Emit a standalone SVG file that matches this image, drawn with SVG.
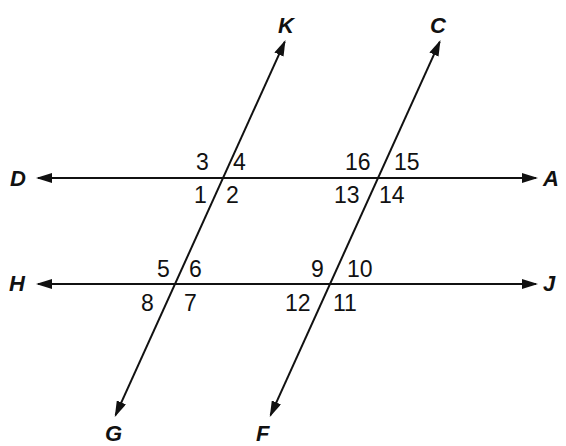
<svg xmlns="http://www.w3.org/2000/svg" width="566" height="446" viewBox="0 0 566 446">
<defs>
<marker id="arr" viewBox="0 0 16 10" refX="14" refY="5" markerWidth="16" markerHeight="10" markerUnits="userSpaceOnUse" orient="auto-start-reverse">
<path d="M0,0 L16,5 L0,10 z" fill="#111"/>
</marker>
<style>
.ln{stroke:#111;stroke-width:2;fill:none;marker-start:url(#arr);marker-end:url(#arr)}
.num{font-family:"Liberation Sans",Arial,sans-serif;font-size:23px;fill:#111}
.pt{font-family:"Liberation Sans",Arial,sans-serif;font-size:22px;font-weight:bold;font-style:italic;fill:#111}
</style>
</defs>
<rect width="566" height="446" fill="#fff"/>
<g id="connectors">
<path class="ln" d="M38,178 L536,178"/>
<path class="ln" d="M38,284 L536,284"/>
<path class="ln" d="M284.7,41.8 L115.6,415.2"/>
<path class="ln" d="M439.7,41.8 L270.6,415.2"/>
</g>
<g id="D"><text class="pt" x="10" y="186">D</text></g>
<g id="A"><text class="pt" x="543" y="186">A</text></g>
<g id="H"><text class="pt" x="9" y="291">H</text></g>
<g id="J"><text class="pt" x="543" y="291">J</text></g>
<g id="K"><text class="pt" x="278" y="33">K</text></g>
<g id="C"><text class="pt" x="430" y="33">C</text></g>
<g id="G"><text class="pt" x="105" y="441">G</text></g>
<g id="F"><text class="pt" x="256" y="441">F</text></g>
<g id="angles">
<text class="num" x="196" y="170">3</text>
<text class="num" x="233" y="170">4</text>
<text class="num" x="194" y="203">1</text>
<text class="num" x="226" y="203">2</text>
<text class="num" x="345" y="170">16</text>
<text class="num" x="394" y="170">15</text>
<text class="num" x="334" y="203">13</text>
<text class="num" x="379" y="203">14</text>
<text class="num" x="157" y="277">5</text>
<text class="num" x="189" y="277">6</text>
<text class="num" x="141" y="311">8</text>
<text class="num" x="184" y="311">7</text>
<text class="num" x="311" y="277">9</text>
<text class="num" x="347" y="277">10</text>
<text class="num" x="285" y="311">12</text>
<text class="num" x="333" y="311">11</text>
</g>
</svg>
